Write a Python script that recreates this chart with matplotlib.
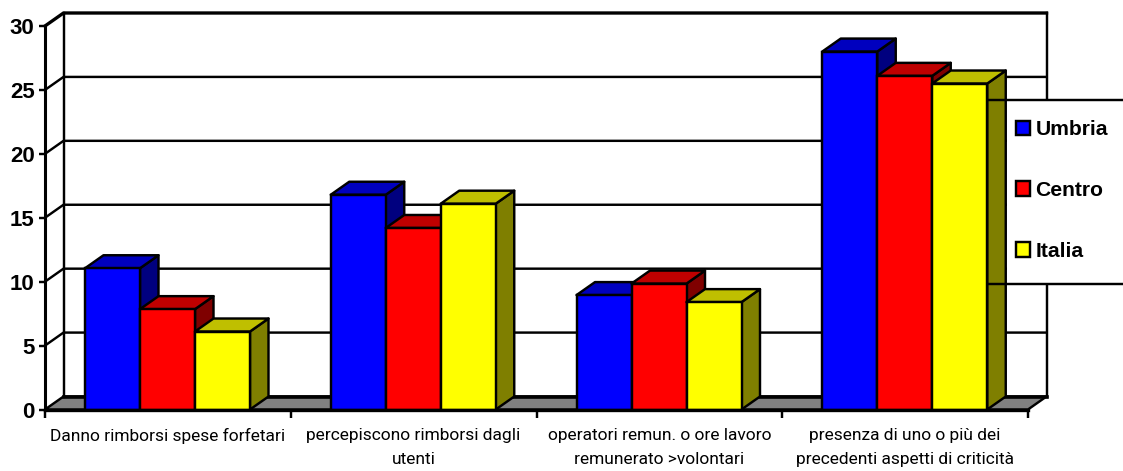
import matplotlib
matplotlib.use("Agg")
import matplotlib.pyplot as plt
from matplotlib.patches import Polygon, Patch, Rectangle

categories = ["Danno rimborsi spese forfetari",
              "percepiscono rimborsi dagli\nutenti",
              "operatori remun. o ore lavoro\nremunerato >volontari",
              "presenza di uno o più dei\nprecedenti aspetti di criticità"]
umbria = [11.05, 16.8, 8.95, 28.0]
centro = [7.85, 14.2, 9.85, 26.1]
italia = [6.1, 16.1, 8.4, 25.5]
series_names = ["Umbria", "Centro", "Italia"]
y_ticks = [0, 5, 10, 15, 20, 25, 30]

W, H = 1123, 471
LW = 1.75
fig = plt.figure(figsize=(W / 100, H / 100), dpi=100, facecolor="white")
ax = fig.add_axes([45 / W, (H - 409.5) / H, 983 / W, 383.5 / H])
ax.set_xlim(0, 4)
ax.set_ylim(0, 30)
ax.patch.set_visible(False)
for s in ax.spines.values():
    s.set_visible(False)

px_x = 4 / 983
px_y = 30 / 383.5
dx, dy = 18.5 * px_x, 13 * px_y
bar_w = 55 * px_x
margin = 40 * px_x


def line(xs, ys, lw=LW, z=1):
    ax.plot(xs, ys, color="black", lw=lw, clip_on=False, zorder=z, solid_capstyle="projecting")


# walls and floor
ax.add_patch(Polygon([(0, 0), (4, 0), (4 + dx, dy), (dx, dy)], closed=True,
                     facecolor="#808080", edgecolor="black", lw=LW, clip_on=False, zorder=1))
line([dx, dx + 4], [dy, dy], lw=2.6, z=1.1)
line([0, 4], [0, 0], lw=2.4, z=4)
for v in y_ticks[1:]:
    line([0, dx, 4 + dx], [v, v + dy, v + dy], lw=2.4 if v == 30 else LW)
line([dx, dx], [dy, 30 + dy])
line([4 + dx, 4 + dx], [dy, 30 + dy])
line([0, 0], [0, 30], lw=2.2, z=4)

# 3D-looking bars
styles = [(umbria, "#0000FF", "#0000BF", "#00007F"),
          (centro, "#FF0000", "#BF0000", "#7F0000"),
          (italia, "#FFFF00", "#BFBF00", "#7F7F00")]
for g in range(len(categories)):
    for k, (vals, front, top, side) in enumerate(styles):
        x0 = g + margin + k * bar_w
        x1 = x0 + bar_w
        v = vals[g]
        kw = dict(closed=True, edgecolor="black", lw=LW, clip_on=False, joinstyle="round", zorder=3)
        ax.add_patch(Polygon([(x1, 0), (x1 + dx, dy), (x1 + dx, v + dy), (x1, v)], facecolor=side, **kw))
        ax.add_patch(Polygon([(x0, v), (x0 + dx, v + dy), (x1 + dx, v + dy), (x1, v)], facecolor=top, **kw))
        ax.add_patch(Rectangle((x0, 0), bar_w, v, facecolor=front, edgecolor="black", lw=LW,
                               clip_on=False, zorder=3))

# ticks
ax.set_yticks(y_ticks)
ax.set_xticks(range(5))
ax.set_xticklabels([])
ax.set_xticks([i + 0.5 for i in range(4)], minor=True)
ax.set_xticklabels(categories, minor=True, fontsize=12.5, family="Roboto", linespacing=1.7, color="black")
ax.tick_params(axis="x", which="major", length=5.5, width=LW, direction="out")
ax.tick_params(axis="x", which="minor", length=0, pad=13.5)
ax.tick_params(axis="y", length=4, width=LW, direction="out", pad=3.5)
for t in ax.get_yticklabels():
    t.set_fontsize(16)
    t.set_fontweight("bold")
    t.set_family("Liberation Sans")

# legend panel
trans = fig.transFigure


def fx(p):
    return p / W


def fy(p):
    return 1 - p / H


fig.add_artist(Rectangle((fx(1007), fy(283)), fx(W - 1007), fy(99) - fy(283), transform=trans,
                         facecolor="white", edgecolor="none", zorder=5))
for yp in (99.5, 283.5):
    fig.add_artist(plt.Line2D([fx(988), fx(W)], [fy(yp), fy(yp)], transform=trans, color="black",
                              lw=LW, zorder=6))
handles = [Patch(facecolor=c[1], edgecolor="black", lw=LW) for c in styles]
leg = fig.legend(handles, series_names, loc="center left", bbox_to_anchor=(fx(1016), fy(190.5)),
                 frameon=False, borderpad=0, borderaxespad=0, handlelength=0.67, handleheight=0.67,
                 handletextpad=0.25, labelspacing=1.98,
                 prop={"family": "Liberation Sans", "weight": "bold", "size": 15.2})
leg.set_zorder(7)

fig.savefig("out.png", dpi=100, facecolor="white")
